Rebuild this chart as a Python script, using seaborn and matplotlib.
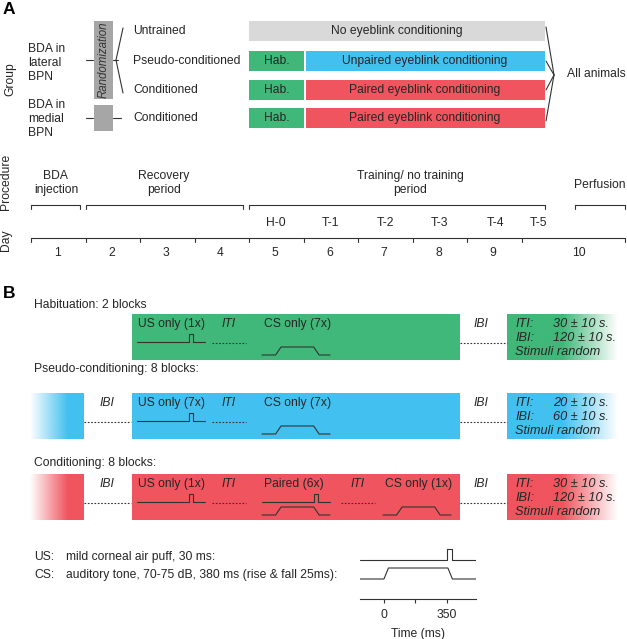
import numpy as np
import pandas as pd
import seaborn as sns
import matplotlib.pyplot as plt
from matplotlib.colors import to_rgb

sns.set_style("white")
plt.rcParams['font.family'] = ['Liberation Sans', 'DejaVu Sans']

# ---- panel A: groups
sites = ["BDA in\nlateral\nBPN", "BDA in\nmedial\nBPN"]
groups = ["Untrained", "Pseudo-conditioned", "Conditioned", "Conditioned"]
has_hab = [False, True, True, True]
train_labels = ["No eyeblink conditioning", "Unpaired eyeblink conditioning",
                "Paired eyeblink conditioning", "Paired eyeblink conditioning"]
train_colors = ["#d9d9d9", "#42c0ef", "#f0545e", "#f0545e"]
hab_color = "#3fb879"

# ---- procedure timeline
days = ["1", "2", "3", "4", "5", "6", "7", "8", "9", "10"]
sessions = ["H-0", "T-1", "T-2", "T-3", "T-4", "T-5"]
phases = ["BDA\ninjection", "Recovery\nperiod", "Training/ no training\nperiod", "Perfusion"]

# ---- panel B: session blocks
block_titles = ["Habituation: 2 blocks", "Pseudo-conditioning: 8 blocks:", "Conditioning: 8 blocks:"]
block_colors = [hab_color, "#42c0ef", "#f0545e"]
block_steps = [
    [("US only (1x)", "us"), ("ITI", "iti"), ("CS only (7x)", "cs")],
    [("US only (7x)", "us"), ("ITI", "iti"), ("CS only (7x)", "cs")],
    [("US only (1x)", "us"), ("ITI", "iti"), ("Paired (6x)", "paired"),
     ("ITI", "iti"), ("CS only (1x)", "cs")],
]
lead_ibi = [False, True, True]
iti_values = ["30 ± 10 s.", "20 ± 10 s.", "30 ± 10 s."]
ibi_values = ["120 ± 10 s.", "60 ± 10 s.", "120 ± 10 s."]

# ---- stimulus time course (ms)
us_time = [-133, 350, 350, 380, 380, 511]
us_level = [0, 0, 1, 1, 0, 0]
cs_time = [-133, 0, 25, 355, 380, 511]
cs_level = [0, 0, 1, 1, 0, 0]
stim_notes = [("US:", "mild corneal air puff, 30 ms:"),
              ("CS:", "auditory tone, 70-75 dB, 380 ms (rise & fall 25ms):")]

TXT = "#262626"
LN = "#333333"
FS = 8.7

fig = plt.figure(figsize=(6.27, 6.39), dpi=100)
ax = fig.add_axes([0, 0, 1, 1])


def grad_box(x0, x1, y0, y1, color, fade_right=True):
    n = 200
    t = np.linspace(0, 1, n)
    if fade_right:
        alpha = np.clip((1 - t) / 0.5, 0, 1)
    else:
        alpha = np.clip(t / 0.7, 0, 1)
    rgba = np.zeros((1, n, 4))
    rgba[..., :3] = to_rgb(color)
    rgba[..., 3] = alpha
    ax.imshow(rgba, extent=(x0, x1, y1, y0), aspect='auto', interpolation='bilinear', zorder=1)


def box(x0, x1, y0, y1, color):
    ax.fill_between([x0, x1], y0, y1, color=color, lw=0, zorder=1)


def seg(xs, ys, **kw):
    kw.setdefault('color', LN)
    kw.setdefault('lw', 0.8)
    ax.plot(xs, ys, zorder=3, **kw)


def us_trace(x, y, w=68, h=8):
    seg([x, x + 0.76 * w, x + 0.76 * w, x + 0.83 * w, x + 0.83 * w, x + w],
        [y, y, y - h, y - h, y, y])


def cs_trace(x, y, w=68, h=8):
    seg([x, x + 0.2 * w, x + 0.28 * w, x + 0.76 * w, x + 0.84 * w, x + w],
        [y, y, y - h, y - h, y, y])


# ================= panel A =================
ax.text(3, 10, "A", fontsize=12.5, fontweight='bold', va='center', color='black')
ax.text(10, 79, "Group", rotation=90, fontsize=FS, va='center', ha='center', color=TXT)

ax.text(28, 63, sites[0], fontsize=FS, va='center', ha='left', color=TXT, linespacing=1.25)
ax.text(28, 119, sites[1], fontsize=FS, va='center', ha='left', color=TXT, linespacing=1.25)

box(94, 113, 21, 99, "#a6a6a6")
box(94, 113, 105, 131, "#a6a6a6")
ax.text(103.5, 60, "Randomization", rotation=90, style='italic', fontsize=8.3,
        va='center', ha='center', color="#333333", zorder=4)

seg([86, 93], [60, 60])
seg([113, 118], [60, 60])
seg([123, 116, 123], [28, 60, 93])
seg([86, 93], [118, 118])
seg([113, 121], [118, 118])

row_y = [31, 61, 90, 118]
for i, g in enumerate(groups):
    y = row_y[i]
    ax.text(133, y, g, fontsize=FS, va='center', ha='left', color=TXT)
    if has_hab[i]:
        box(249, 304, y - 10, y + 9.5, hab_color)
        ax.text(277, y, "Hab.", fontsize=FS, va='center', ha='center', color=TXT, zorder=4)
        box(306, 545, y - 10, y + 9.5, train_colors[i])
        ax.text(425, y, train_labels[i], fontsize=FS, va='center', ha='center', color=TXT, zorder=4)
    else:
        box(249, 545, y - 10, y + 9.5, train_colors[i])
        ax.text(397, y, train_labels[i], fontsize=FS, va='center', ha='center', color=TXT, zorder=4)
    y_end = [27, 61, 90, 121][i]
    seg([546, 554], [y_end, 75])
ax.text(567, 74, "All animals", fontsize=FS, va='center', ha='left', color=TXT)

# ================= procedure / day =================
ax.text(6, 182, "Procedure", rotation=90, fontsize=FS, va='center', ha='center', color=TXT)
ax.text(6, 240, "Day", rotation=90, fontsize=FS, va='center', ha='center', color=TXT)

brackets = [(31, 80), (86, 243), (249, 545), (575, 625)]
phase_x = [56, 164, 410, 600]
for (x0, x1), px, lab in zip(brackets, phase_x, phases):
    seg([x0, x0, x1, x1], [209, 205, 205, 209])
    ax.text(px, 183 if "\n" in lab else 185, lab, fontsize=FS, va='center', ha='center',
            color=TXT, linespacing=1.25)

session_x = [276, 330, 385, 439, 495, 538]
for sx, s in zip(session_x, sessions):
    ax.text(sx, 223, s, fontsize=FS, va='center', ha='center', color=TXT)

step = 54.5
tick_x = [31 + step * k for k in range(10)] + [625]
seg([31, 625], [238, 238])
for tx in tick_x:
    seg([tx, tx], [238, 242])
day_x = [31 + step * k + 26 for k in range(9)] + [579]
for dx, d in zip(day_x, days):
    ax.text(dx, 253, d, fontsize=FS, va='center', ha='center', color=TXT)

# ================= panel B =================
ax.text(3, 294, "B", fontsize=12.5, fontweight='bold', va='center', color='black')

block_top = [314, 393, 474]
title_y = [305, 369, 463]
H = 46
RFS = 9.2
for b in range(3):
    top = block_top[b]
    col = block_colors[b]
    ax.text(34, title_y[b], block_titles[b], fontsize=FS, va='center', ha='left', color=TXT)
    if lead_ibi[b]:
        grad_box(30, 84, top, top + H, col, fade_right=False)
        ax.text(100, top + 10, "IBI", style='italic', fontsize=FS, va='center', ha='left', color=TXT)
        seg([84, 131], [top + 29, top + 29], ls=(0, (1.5, 1.5)))
    box(132, 460, top, top + H, col)
    slot_x = [138, 222, 264, 351, 385]
    for k, (lab, kind) in enumerate(block_steps[b]):
        sx = slot_x[k]
        ax.text(sx, top + 10, lab, style='italic' if kind == 'iti' else 'normal',
                fontsize=FS, va='center', ha='left', color=TXT, zorder=4)
        if kind == 'us':
            us_trace(sx - 1, top + 28)
        elif kind == 'cs':
            cs_trace(sx - 2, top + 41)
        elif kind == 'paired':
            us_trace(sx - 2, top + 28)
            cs_trace(sx - 2, top + 41)
        else:
            seg([sx - 10, sx + 24], [top + 29, top + 29], ls=(0, (1.5, 1.5)))
    ax.text(474, top + 10, "IBI", style='italic', fontsize=FS, va='center', ha='left', color=TXT)
    seg([460, 507], [top + 29, top + 29], ls=(0, (1.5, 1.5)))
    grad_box(507, 618, top, top + H, col, fade_right=True)
    for j, (k, v) in enumerate([("ITI:", iti_values[b]), ("IBI:", ibi_values[b])]):
        ax.text(515, top + 10 + 14 * j, k, style='italic', fontsize=RFS, va='center', ha='left',
                color=TXT, zorder=4)
        ax.text(553, top + 10 + 14 * j, v, style='italic', fontsize=RFS, va='center', ha='left',
                color=TXT, zorder=4)
    ax.text(515, top + 38, "Stimuli random", style='italic', fontsize=RFS, va='center',
            ha='left', color=TXT, zorder=4)

for j, (k, v) in enumerate(stim_notes):
    ax.text(34, 557 + 18 * j, k, fontsize=FS, va='center', ha='left', color=TXT)
    ax.text(66, 557 + 18 * j, v, fontsize=FS, va='center', ha='left', color=TXT)

ax.set_xlim(0, 627)
ax.set_ylim(639, 0)
ax.axis('off')

# ---- time course inset
ins = fig.add_axes([360 / 627, 1 - 599 / 639, 116 / 627, 54 / 639])
stim = pd.concat([
    pd.DataFrame({"time": us_time, "y": np.array(us_level) * 11 + 39, "stim": "US"}),
    pd.DataFrame({"time": cs_time, "y": np.array(cs_level) * 11 + 20, "stim": "CS"}),
])
sns.lineplot(data=stim, x="time", y="y", units="stim", estimator=None, sort=False,
             color=LN, lw=0.8, ax=ins)
ins.set_xlim(-133, 511)
ins.set_ylim(0, 54)
ins.set_facecolor('none')
for s in ['top', 'left', 'right']:
    ins.spines[s].set_visible(False)
ins.spines['bottom'].set_color(LN)
ins.spines['bottom'].set_linewidth(0.8)
ins.set_yticks([])
ins.set_ylabel("")
ins.set_xticks([0, 175, 350])
ins.set_xticklabels(["0", "", "350"], fontsize=FS, color=TXT)
ins.tick_params(axis='x', length=3, width=0.8, color=LN, pad=4, bottom=True)
ins.set_xlabel("Time (ms)", fontsize=FS, color=TXT, labelpad=5)

fig.savefig("out.png", dpi=100)
